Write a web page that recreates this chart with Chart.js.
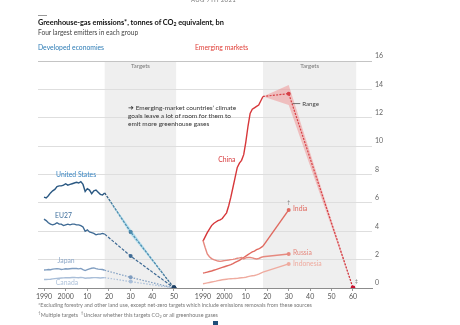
<!DOCTYPE html>
<html>
<head>
<meta charset="utf-8">
<script src="https://cdn.jsdelivr.net/npm/chart.js@4.4.1/dist/chart.umd.min.js"></script>
<style>
  body { margin: 0; background: #fff; font-family: Lato, "Open Sans", sans-serif; }
  #wrap { position: relative; width: 460px; height: 325px; overflow: hidden; background: #fff; }
  canvas { position: absolute; left: 0; top: 0; }
  .t { position: absolute; white-space: nowrap; line-height: 1; }
  sub { font-size: 70%; vertical-align: -1px; line-height: 0; }
</style>
</head>
<body>
<div id="wrap">
  <canvas id="developed" width="460" height="325"></canvas>
  <canvas id="emerging" width="460" height="325"></canvas>

  <div class="t" style="left:191px;top:-3px;font-size:6px;color:#777;letter-spacing:0.3px;">AUG 7TH 2021</div>
  <div style="position:absolute;left:38px;top:15px;width:9px;height:1px;background:#999;"></div>
  <div class="t" style="left:38px;top:19px;font-size:7.4px;font-weight:bold;color:#111;letter-spacing:-0.05px;">Greenhouse-gas emissions*, tonnes of CO<sub>2</sub> equivalent, bn</div>
  <div class="t" style="left:38px;top:29px;font-size:6.6px;color:#444;">Four largest emitters in each group</div>
  <div class="t" style="left:38px;top:44px;font-size:6.8px;color:#2f7db6;">Developed economies</div>
  <div class="t" style="left:195px;top:44px;font-size:6.8px;color:#e0413a;">Emerging markets</div>

  <div class="t" style="left:128px;top:104px;font-size:6.5px;color:#333;line-height:8px;">
    &#10140; Emerging-market countries&rsquo; climate<br>goals leave a lot of room for them to<br>emit more greenhouse gases
  </div>

  <div class="t" style="left:38px;top:303px;font-size:5.4px;color:#777;">*Excluding forestry and other land use, except net-zero targets which include emissions removals from these sources</div>
  <div class="t" style="left:38px;top:311px;font-size:5.4px;color:#777;"><sup>&dagger;</sup>Multiple targets &nbsp;<sup>&Dagger;</sup>Unclear whether this targets CO<sub>2</sub> or all greenhouse gases</div>
  <div style="position:absolute;left:213px;top:321px;width:5px;height:4px;background:#1f4e79;"></div>
</div>

<script>
// historical years, 1990-2018
const years = [1990, 1991, 1992, 1993, 1994, 1995, 1996, 1997, 1998, 1999,
               2000, 2001, 2002, 2003, 2004, 2005, 2006, 2007, 2008, 2009,
               2010, 2011, 2012, 2013, 2014, 2015, 2016, 2017, 2018];

// developed economies, bn tonnes CO2e
const usHist     = [6.4, 6.35, 6.5, 6.7, 6.85, 6.95, 7.15, 7.2, 7.2, 7.25,
                    7.35, 7.25, 7.3, 7.35, 7.4, 7.45, 7.4, 7.5, 7.3, 6.8,
                    7.0, 6.9, 6.65, 6.85, 6.9, 6.75, 6.6, 6.55, 6.7];
const euHist     = [4.85, 4.75, 4.6, 4.5, 4.45, 4.5, 4.6, 4.5, 4.5, 4.4,
                    4.45, 4.5, 4.45, 4.5, 4.5, 4.45, 4.45, 4.4, 4.3, 4.0,
                    4.1, 3.95, 3.9, 3.85, 3.75, 3.8, 3.8, 3.85, 3.8];
const japanHist  = [1.27, 1.28, 1.3, 1.29, 1.33, 1.35, 1.36, 1.35, 1.31, 1.33,
                    1.36, 1.34, 1.36, 1.37, 1.37, 1.37, 1.35, 1.38, 1.3, 1.23,
                    1.29, 1.35, 1.39, 1.42, 1.37, 1.33, 1.31, 1.3, 1.25];
const canadaHist = [0.6, 0.6, 0.61, 0.62, 0.64, 0.66, 0.68, 0.69, 0.7, 0.71,
                    0.73, 0.72, 0.72, 0.74, 0.74, 0.73, 0.72, 0.75, 0.73, 0.69,
                    0.7, 0.71, 0.72, 0.73, 0.73, 0.72, 0.71, 0.72, 0.73];

const devTargetYears = [2018, 2030, 2050];
const usTarget     = [6.7, 3.95, 0];
const usTargetHigh = [6.7, 4.15, 0];
const usTargetLow  = [6.7, 3.75, 0];
const euTarget     = [3.8, 2.25, 0];
const japanTarget  = [1.25, 0.75, 0];
const canadaTarget = [0.73, 0.45, 0];

// emerging markets
const chinaHist     = [3.3, 3.6, 3.9, 4.15, 4.4, 4.55, 4.65, 4.75, 4.8, 4.9,
                       5.1, 5.3, 5.8, 6.4, 7.1, 7.8, 8.5, 8.8, 9.0, 9.4,
                       10.3, 11.4, 12.3, 12.6, 12.7, 12.8, 12.9, 13.2, 13.5];
const indiaHist     = [1.05, 1.08, 1.12, 1.16, 1.2, 1.25, 1.3, 1.35, 1.4, 1.45,
                       1.5, 1.55, 1.6, 1.65, 1.72, 1.8, 1.88, 1.95, 2.05, 2.15,
                       2.25, 2.35, 2.45, 2.55, 2.6, 2.7, 2.75, 2.85, 2.95];
const russiaHist    = [3.35, 2.85, 2.4, 2.2, 2.07, 2.0, 1.95, 1.9, 1.88, 1.9,
                       1.93, 1.95, 1.97, 2.0, 2.02, 2.05, 2.1, 2.12, 2.15, 2.05,
                       2.12, 2.15, 2.15, 2.12, 2.08, 2.05, 2.08, 2.15, 2.2];
const indonesiaHist = [0.3, 0.33, 0.36, 0.39, 0.42, 0.45, 0.48, 0.52, 0.55, 0.58,
                       0.6, 0.62, 0.64, 0.65, 0.66, 0.67, 0.68, 0.7, 0.72, 0.73,
                       0.76, 0.8, 0.84, 0.86, 0.88, 0.92, 0.98, 1.05, 1.12];

const chinaTargetYears = [2018, 2030, 2060];
const chinaTarget     = [13.5, 13.7, 0];
const chinaTargetHigh = [13.5, 14.3, 0];
const chinaTargetLow  = [13.5, 12.9, 0];
const emTargetYears   = [2018, 2030];
const indiaTarget     = [2.95, 5.5];
const russiaTarget    = [2.2, 2.4];
const indonesiaTarget = [1.12, 1.7];

// axes
const devTicks = [1990, 2000, 2010, 2020, 2030, 2040, 2050];
const emTicks  = [1990, 2000, 2010, 2020, 2030, 2040, 2050, 2060];
const yTicks   = [0, 2, 4, 6, 8, 10, 12, 14, 16];
const devTargetSpan = [2018, 2051];
const emTargetSpan  = [2018, 2061.5];

const pts = (xs, ys) => xs.map((x, i) => ({ x: x, y: ys[i] }));

const GRID = '#dedede';
const tickFont = { family: 'Lato, "Open Sans", sans-serif', size: 7 };

const histLine = (data, color) => ({
  data: data, borderColor: color, borderWidth: 1.4, pointRadius: 0, tension: 0, fill: false
});
const targetLine = (data, color, dash, endColor) => ({
  data: data, borderColor: color, borderWidth: 1.2, borderDash: dash, tension: 0, fill: false,
  pointRadius: [0, 2, 2.4], pointBorderWidth: 0,
  pointBackgroundColor: [color, color, endColor]
});
const bandEdge = (data) => ({ data: data, borderWidth: 0, pointRadius: 0, fill: false, tension: 0 });
const bandFill = (data, color) => ({ data: data, borderWidth: 0, pointRadius: 0, fill: '-1', backgroundColor: color, tension: 0 });

// grey "Targets" panel behind grid and lines
const targetsShade = {
  id: 'targetsShade',
  beforeDraw(chart, args, opts) {
    const { ctx, chartArea, scales } = chart;
    const x0 = scales.x.getPixelForValue(opts.span[0]);
    const x1 = scales.x.getPixelForValue(opts.span[1]);
    ctx.save();
    ctx.fillStyle = '#efefef';
    ctx.fillRect(x0, chartArea.top, x1 - x0, chartArea.bottom - chartArea.top);
    ctx.fillStyle = '#777';
    ctx.font = '6px Lato, "Open Sans", sans-serif';
    ctx.textAlign = 'center';
    ctx.textBaseline = 'middle';
    ctx.fillText('Targets', (x0 + x1) / 2, chartArea.top + 5);
    ctx.restore();
  }
};

// series names and notes, placed in data units
const seriesLabels = {
  id: 'seriesLabels',
  afterDatasetsDraw(chart, args, opts) {
    const { ctx, scales } = chart;
    ctx.save();
    ctx.textBaseline = 'middle';
    opts.items.forEach(it => {
      ctx.font = (it.size || 6.8) + 'px Lato, "Open Sans", sans-serif';
      ctx.fillStyle = it.color;
      ctx.textAlign = it.align || 'center';
      ctx.fillText(it.text, scales.x.getPixelForValue(it.x), scales.y.getPixelForValue(it.y));
    });
    (opts.leaders || []).forEach(l => {
      ctx.strokeStyle = l.color;
      ctx.lineWidth = 0.8;
      ctx.beginPath();
      ctx.moveTo(scales.x.getPixelForValue(l.x0), scales.y.getPixelForValue(l.y));
      ctx.lineTo(scales.x.getPixelForValue(l.x1), scales.y.getPixelForValue(l.y));
      ctx.stroke();
    });
    ctx.restore();
  }
};

const xAxis = (min, max, ticks) => ({
  type: 'linear', min: min, max: max,
  afterBuildTicks: a => { a.ticks = ticks.map(v => ({ value: v })); },
  afterFit: s => { s.height = 17; },
  ticks: {
    color: '#555', font: tickFont, padding: 2, maxRotation: 0, autoSkip: false,
    callback: v => v < 2010 ? String(v) : String(v - 2000)
  },
  grid: { drawOnChartArea: false, drawTicks: true, tickLength: 3, color: '#999' },
  border: { color: '#8c8c8c', width: 1 }
});

const gridColor = c => c.tick && c.tick.value === 16 ? '#c4c4c4' : GRID;

const baseOptions = (padding, scales, plugins) => ({
  responsive: false,
  animation: false,
  devicePixelRatio: 1,
  layout: { padding: padding },
  scales: scales,
  plugins: Object.assign({ legend: { display: false }, tooltip: { enabled: false } }, plugins)
});

new Chart(document.getElementById('developed'), {
  type: 'line',
  data: {
    datasets: [
      bandEdge(pts(devTargetYears, usTargetLow)),
      bandFill(pts(devTargetYears, usTargetHigh), 'rgba(120, 205, 235, 0.5)'),
      histLine(pts(years, canadaHist), '#a9bed8'),
      histLine(pts(years, japanHist), '#7f9dc0'),
      histLine(pts(years, euHist), '#3e6a94'),
      histLine(pts(years, usHist), '#2a5882'),
      targetLine(pts(devTargetYears, canadaTarget), '#a9bed8', [1.5, 1.5], '#1d3f63'),
      targetLine(pts(devTargetYears, japanTarget), '#7f9dc0', [1.5, 1.5], '#1d3f63'),
      targetLine(pts(devTargetYears, euTarget), '#3e6a94', [3, 1.5], '#1d3f63'),
      targetLine(pts(devTargetYears, usTarget), '#23496f', [2.5, 1.2], '#1d3f63')
    ]
  },
  options: baseOptions(
    { left: 38, right: 268, top: 61, bottom: 20 },
    {
      x: xAxis(1987.23, 2058.31, devTicks),
      y: {
        min: 0, max: 16,
        afterBuildTicks: a => { a.ticks = yTicks.map(v => ({ value: v })); },
        afterFit: s => { s.width = 0; },
        ticks: { display: false },
        grid: { color: gridColor, drawTicks: false },
        border: { display: false }
      }
    },
    {
      targetsShade: { span: devTargetSpan },
      seriesLabels: {
        items: [
          { text: 'United States', x: 2004.8, y: 7.95, color: '#3a86c2' },
          { text: 'EU27', x: 1999, y: 5.1, color: '#3f6f9d' },
          { text: 'Japan', x: 2000.2, y: 1.9, color: '#8ea9c9' },
          { text: 'Canada', x: 2000.6, y: 0.35, color: '#aec2da' }
        ]
      }
    }
  ),
  plugins: [targetsShade, seriesLabels]
});

new Chart(document.getElementById('emerging'), {
  type: 'line',
  data: {
    datasets: [
      bandEdge(pts(chinaTargetYears, chinaTargetLow)),
      bandFill(pts(chinaTargetYears, chinaTargetHigh), 'rgba(240, 110, 110, 0.38)'),
      histLine(pts(years, indonesiaHist), '#efab9f'),
      histLine(pts(years, russiaHist), '#e6897f'),
      histLine(pts(years, indiaHist), '#e06a60'),
      histLine(pts(years, chinaHist), '#d7373a'),
      Object.assign(histLine(pts(emTargetYears, indonesiaTarget), '#efab9f'),
        { pointRadius: [0, 2], pointBackgroundColor: '#efab9f', pointBorderWidth: 0 }),
      Object.assign(histLine(pts(emTargetYears, russiaTarget), '#e6897f'),
        { pointRadius: [0, 2], pointBackgroundColor: '#e6897f', pointBorderWidth: 0 }),
      Object.assign(histLine(pts(emTargetYears, indiaTarget), '#e06a60'),
        { pointRadius: [0, 2], pointBackgroundColor: '#e06a60', pointBorderWidth: 0 }),
      targetLine(pts(chinaTargetYears, chinaTarget), '#c8232c', [2, 1.3], '#c8102e')
    ]
  },
  options: baseOptions(
    { left: 192, right: 73, top: 61, bottom: 20 },
    {
      x: xAxis(1984.87, 2068.87, emTicks),
      y: {
        position: 'right',
        min: 0, max: 16,
        afterBuildTicks: a => { a.ticks = yTicks.map(v => ({ value: v })); },
        afterFit: s => { s.width = 15; },
        ticks: { color: '#666', font: tickFont, padding: 3, labelOffset: -5 },
        grid: { color: gridColor, drawTicks: false },
        border: { display: false }
      }
    },
    {
      targetsShade: { span: emTargetSpan },
      seriesLabels: {
        items: [
          { text: 'China', x: 2001.1, y: 9.07, color: '#d7373a' },
          { text: 'India', x: 2032, y: 5.57, color: '#e06a60', align: 'left' },
          { text: 'Russia', x: 2032, y: 2.47, color: '#e6897f', align: 'left' },
          { text: 'Indonesia', x: 2032, y: 1.72, color: '#efab9f', align: 'left' },
          { text: 'Range', x: 2036.3, y: 13.0, color: '#444', align: 'left', size: 6.2 },
          { text: '\u2020', x: 2030, y: 6.05, color: '#777', size: 5 },
          { text: '\u2021', x: 2061.6, y: 0.5, color: '#777', size: 5 }
        ],
        leaders: [
          { x0: 2031.8, x1: 2035.4, y: 13.0, color: '#555' }
        ]
      }
    }
  ),
  plugins: [targetsShade, seriesLabels]
});
</script>
</body>
</html>
